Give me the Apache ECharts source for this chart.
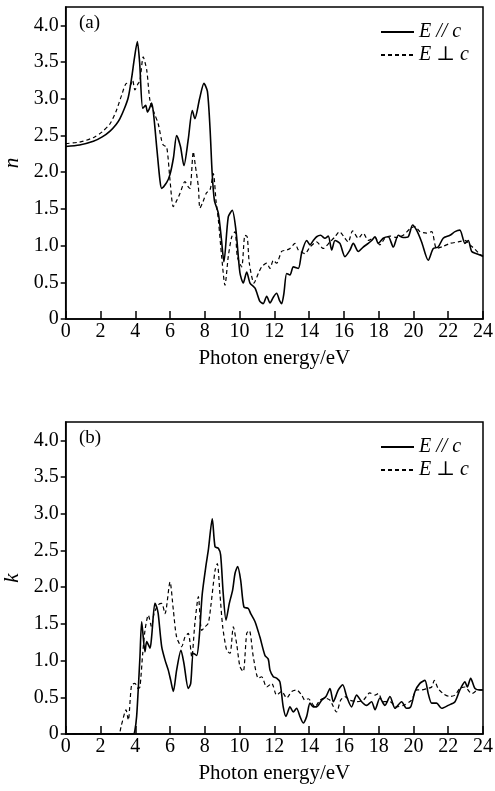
<!DOCTYPE html>
<html>
<head>
<meta charset="utf-8">
<style>
  html, body { margin: 0; padding: 0; background: #fff; }
  #chart { width: 495px; height: 791px; }
</style>
<script src="https://cdn.jsdelivr.net/npm/echarts@6/dist/echarts.min.js"></script>
</head>
<body>
<div id="chart"></div>
<script>
// refractive index n, E // c  ([photon energy, n])
var nPar = [[0,2.35],[0.8,2.37],[1.59,2.42],[2.1,2.48],[2.55,2.56],[2.9,2.65],[3.12,2.73],[3.4,2.88],[3.6,3.02],[3.79,3.28],[3.95,3.55],[4.12,3.78],[4.25,3.5],[4.43,2.87],[4.6,2.91],[4.7,2.82],[4.8,2.86],[4.94,2.94],[5.05,2.8],[5.25,2.3],[5.42,1.89],[5.52,1.78],[5.81,1.86],[6.0,1.97],[6.2,2.2],[6.38,2.5],[6.6,2.35],[6.8,2.09],[7.05,2.45],[7.28,2.84],[7.43,2.73],[7.7,3.0],[7.95,3.21],[8.15,3.1],[8.3,2.6],[8.42,2.0],[8.55,1.62],[8.78,1.44],[8.95,1.1],[9.1,0.78],[9.35,1.39],[9.58,1.48],[9.79,1.21],[10.02,0.63],[10.21,0.49],[10.41,0.64],[10.6,0.49],[10.89,0.42],[11.17,0.24],[11.36,0.21],[11.56,0.31],[11.75,0.22],[11.95,0.3],[12.13,0.35],[12.3,0.25],[12.42,0.21],[12.55,0.35],[12.71,0.62],[12.9,0.6],[13.09,0.71],[13.38,0.69],[13.57,0.9],[13.86,1.07],[14.05,1.01],[14.24,1.07],[14.43,1.12],[14.66,1.14],[14.91,1.1],[15.1,1.13],[15.3,0.94],[15.49,1.07],[15.77,1.03],[16.06,0.85],[16.35,0.94],[16.54,1.03],[16.83,0.92],[17.11,0.98],[17.4,1.03],[17.6,1.07],[17.79,1.12],[17.98,1.03],[18.26,1.1],[18.55,1.12],[18.84,0.98],[19.13,1.14],[19.41,1.11],[19.7,1.12],[19.95,1.28],[20.18,1.21],[20.47,1.05],[20.85,0.8],[21.14,0.96],[21.42,0.98],[21.71,1.1],[22.1,1.14],[22.39,1.19],[22.67,1.21],[22.96,1.03],[23.15,1.07],[23.35,0.92],[23.63,0.89],[23.92,0.86],[24,0.85]];

// refractive index n, E ⊥ c
var nPerp = [[0,2.39],[0.8,2.41],[1.59,2.47],[2.1,2.55],[2.55,2.66],[2.9,2.83],[3.22,3.05],[3.5,3.21],[3.7,3.18],[3.85,3.25],[3.98,3.12],[4.15,3.2],[4.27,3.25],[4.46,3.57],[4.66,3.39],[4.85,2.97],[5.1,2.8],[5.32,2.66],[5.5,2.45],[5.61,2.37],[5.81,2.34],[6.0,1.89],[6.19,1.53],[6.4,1.62],[6.57,1.71],[6.86,1.87],[7.05,1.8],[7.15,1.78],[7.34,2.28],[7.45,2.1],[7.63,1.8],[7.72,1.51],[7.9,1.6],[8.1,1.72],[8.3,1.76],[8.49,1.98],[8.65,1.6],[8.78,1.35],[8.97,0.85],[9.16,0.46],[9.35,0.85],[9.55,1.12],[9.74,1.19],[9.87,0.85],[10.12,0.71],[10.31,1.14],[10.44,1.12],[10.56,0.76],[10.83,0.49],[11.08,0.62],[11.27,0.71],[11.56,0.76],[11.75,0.69],[11.94,0.8],[12.13,0.76],[12.42,0.92],[12.71,0.94],[12.9,0.96],[13.19,1.03],[13.38,0.94],[13.76,0.89],[14.05,0.98],[14.43,1.05],[14.81,0.96],[15.2,1.05],[15.49,1.12],[15.74,1.19],[16.06,1.1],[16.25,1.05],[16.5,1.2],[16.83,1.1],[17.11,1.17],[17.4,1.07],[17.79,1.11],[18.07,1.01],[18.36,1.1],[18.65,1.13],[19.03,1.11],[19.41,1.14],[19.8,1.23],[20.09,1.26],[20.37,1.19],[20.76,1.17],[21.05,1.19],[21.33,0.96],[21.71,0.99],[22.1,1.03],[22.58,1.05],[22.96,1.07],[23.25,1.01],[23.54,0.95],[23.83,0.88],[24,0.86]];

// extinction coefficient k, E // c
var kPar = [[0,0],[3.89,0],[3.98,0.05],[4.08,0.24],[4.17,0.6],[4.27,1.05],[4.37,1.53],[4.56,1.12],[4.66,1.26],[4.85,1.17],[4.94,1.32],[5.13,1.78],[5.23,1.73],[5.32,1.64],[5.52,1.19],[5.71,1.01],[5.9,0.87],[6.04,0.73],[6.19,0.58],[6.38,0.87],[6.63,1.14],[6.8,0.96],[7.05,0.62],[7.19,0.69],[7.34,1.1],[7.53,1.07],[7.68,1.32],[7.85,1.9],[8.07,2.3],[8.2,2.5],[8.43,2.93],[8.59,2.55],[8.78,2.53],[8.91,2.44],[9.06,1.91],[9.22,1.55],[9.41,1.78],[9.6,1.96],[9.74,2.19],[9.89,2.28],[10.06,2.1],[10.25,1.73],[10.5,1.71],[10.64,1.64],[10.89,1.53],[11.17,1.32],[11.46,1.07],[11.65,1.02],[11.75,0.87],[11.94,0.78],[12.13,0.76],[12.32,0.71],[12.51,0.37],[12.67,0.24],[12.9,0.37],[13.09,0.3],[13.28,0.35],[13.47,0.24],[13.66,0.15],[13.86,0.24],[14.05,0.42],[14.24,0.37],[14.43,0.37],[14.72,0.46],[14.97,0.51],[15.2,0.62],[15.39,0.44],[15.68,0.6],[15.93,0.67],[16.16,0.51],[16.44,0.37],[16.73,0.53],[17.02,0.44],[17.3,0.39],[17.59,0.44],[17.79,0.33],[18.07,0.49],[18.36,0.39],[18.65,0.51],[18.94,0.35],[19.32,0.44],[19.6,0.35],[19.84,0.37],[20.09,0.58],[20.37,0.69],[20.66,0.73],[20.85,0.55],[21.05,0.42],[21.33,0.42],[21.62,0.35],[22.0,0.39],[22.39,0.44],[22.67,0.6],[22.96,0.71],[23.1,0.64],[23.29,0.76],[23.54,0.62],[23.83,0.6],[24,0.6]];

// extinction coefficient k, E ⊥ c
var kPerp = [[0,0],[3.02,0],[3.2,0.12],[3.47,0.33],[3.6,0.19],[3.79,0.67],[3.98,0.69],[4.17,0.62],[4.27,0.64],[4.43,1.1],[4.56,1.41],[4.75,1.62],[4.94,1.46],[5.08,1.64],[5.32,1.76],[5.52,1.78],[5.71,1.64],[6.0,2.07],[6.19,1.69],[6.38,1.32],[6.67,1.19],[6.86,1.32],[7.05,1.37],[7.25,1.05],[7.43,1.51],[7.63,1.87],[7.82,1.41],[8.01,1.46],[8.2,1.51],[8.34,1.73],[8.59,2.23],[8.72,2.32],[8.87,1.91],[9.03,1.46],[9.26,1.14],[9.45,1.1],[9.64,1.46],[9.83,1.23],[10.02,0.92],[10.21,0.85],[10.41,1.37],[10.56,1.41],[10.79,1.05],[11.08,0.76],[11.27,0.78],[11.56,0.64],[11.85,0.69],[12.13,0.53],[12.42,0.58],[12.71,0.49],[13.0,0.58],[13.28,0.6],[13.57,0.53],[13.76,0.46],[13.95,0.48],[14.34,0.37],[14.62,0.46],[14.91,0.49],[15.2,0.46],[15.58,0.3],[15.81,0.46],[16.06,0.51],[16.35,0.46],[16.73,0.44],[17.11,0.46],[17.49,0.56],[17.79,0.53],[17.98,0.55],[18.26,0.44],[18.65,0.44],[19.03,0.37],[19.41,0.39],[19.89,0.46],[20.18,0.6],[20.47,0.6],[20.79,0.62],[21.05,0.64],[21.2,0.73],[21.42,0.62],[21.71,0.55],[22.1,0.51],[22.39,0.53],[22.67,0.62],[22.96,0.64],[23.35,0.55],[23.73,0.6],[24,0.6]];

var yTicks = [0, 0.5, 1.0, 1.5, 2.0, 2.5, 3.0, 3.5, 4.0];
var seriesNames = ['E // c', 'E \u22a5 c'];
var panelTags = ['(a)', '(b)'];

var serif = '"Liberation Serif", "DejaVu Serif", serif';

function xAxisOpt(idx) {
  return {
    type: 'value', gridIndex: idx, min: 0, max: 24, interval: 2,
    name: 'Photon energy/eV', nameLocation: 'middle', nameGap: 29,
    nameTextStyle: { fontFamily: serif, fontSize: 21, color: '#000' },
    axisLine: { lineStyle: { color: '#000', width: 1.5 } },
    axisTick: { inside: true, length: 8, lineStyle: { color: '#000', width: 1.5 } },
    axisLabel: { fontFamily: serif, fontSize: 20, color: '#000', margin: 3 },
    splitLine: { show: false }
  };
}

function yAxisOpt(idx, label) {
  return {
    type: 'value', gridIndex: idx, min: 0, max: 4.25,
    name: label, nameLocation: 'middle', nameGap: 43,
    nameTextStyle: { fontFamily: serif, fontSize: 21, fontStyle: 'italic', color: '#000' },
    axisLine: { lineStyle: { color: '#000', width: 1.5 } },
    axisTick: { customValues: yTicks, length: 5, lineStyle: { color: '#000', width: 1.5 } },
    axisLabel: {
      customValues: yTicks, fontFamily: serif, fontSize: 20, color: '#000', margin: 7,
      formatter: function (v) { return v === 0 ? '0' : v.toFixed(1); }
    },
    splitLine: { show: false }
  };
}

function lineSeries(name, idx, data, dashed) {
  return {
    name: name, type: 'line', xAxisIndex: idx, yAxisIndex: idx,
    data: data, symbol: 'none', showSymbol: false, smooth: 0.25,
    lineStyle: { color: '#000', width: dashed ? 1.2 : 1.6, type: dashed ? [4, 3] : 'solid' },
    itemStyle: { color: '#000' },
    animation: false
  };
}

function legendOpt(top) {
  return {
    data: seriesNames, orient: 'vertical', left: 380, top: top, padding: 0,
    itemWidth: 33, itemHeight: 14, itemGap: 3, selectedMode: false,
    itemStyle: { opacity: 0 },
    textStyle: { fontFamily: serif, fontSize: 20, fontStyle: 'italic', color: '#000' }
  };
}

var chart = echarts.init(document.getElementById('chart'), null, { renderer: 'canvas' });
chart.setOption({
  backgroundColor: '#fff',
  animation: false,
  grid: [
    { left: 65.7, right: 12, top: 7, height: 312, outerBoundsMode: 'none', containLabel: false,
      show: true, borderColor: '#000', borderWidth: 1.5 },
    { left: 65.7, right: 12, top: 422, height: 312, outerBoundsMode: 'none', containLabel: false,
      show: true, borderColor: '#000', borderWidth: 1.5 }
  ],
  xAxis: [xAxisOpt(0), xAxisOpt(1)],
  yAxis: [yAxisOpt(0, 'n'), yAxisOpt(1, 'k')],
  legend: [legendOpt(22), legendOpt(437)],
  graphic: [
    { type: 'text', left: 79, top: 14, style: { text: panelTags[0], font: '19px ' + serif, fill: '#000' } },
    { type: 'text', left: 79, top: 429, style: { text: panelTags[1], font: '19px ' + serif, fill: '#000' } }
  ],
  series: [
    lineSeries(seriesNames[0], 0, nPar, false),
    lineSeries(seriesNames[1], 0, nPerp, true),
    lineSeries(seriesNames[0], 1, kPar, false),
    lineSeries(seriesNames[1], 1, kPerp, true)
  ]
});
</script>
</body>
</html>
